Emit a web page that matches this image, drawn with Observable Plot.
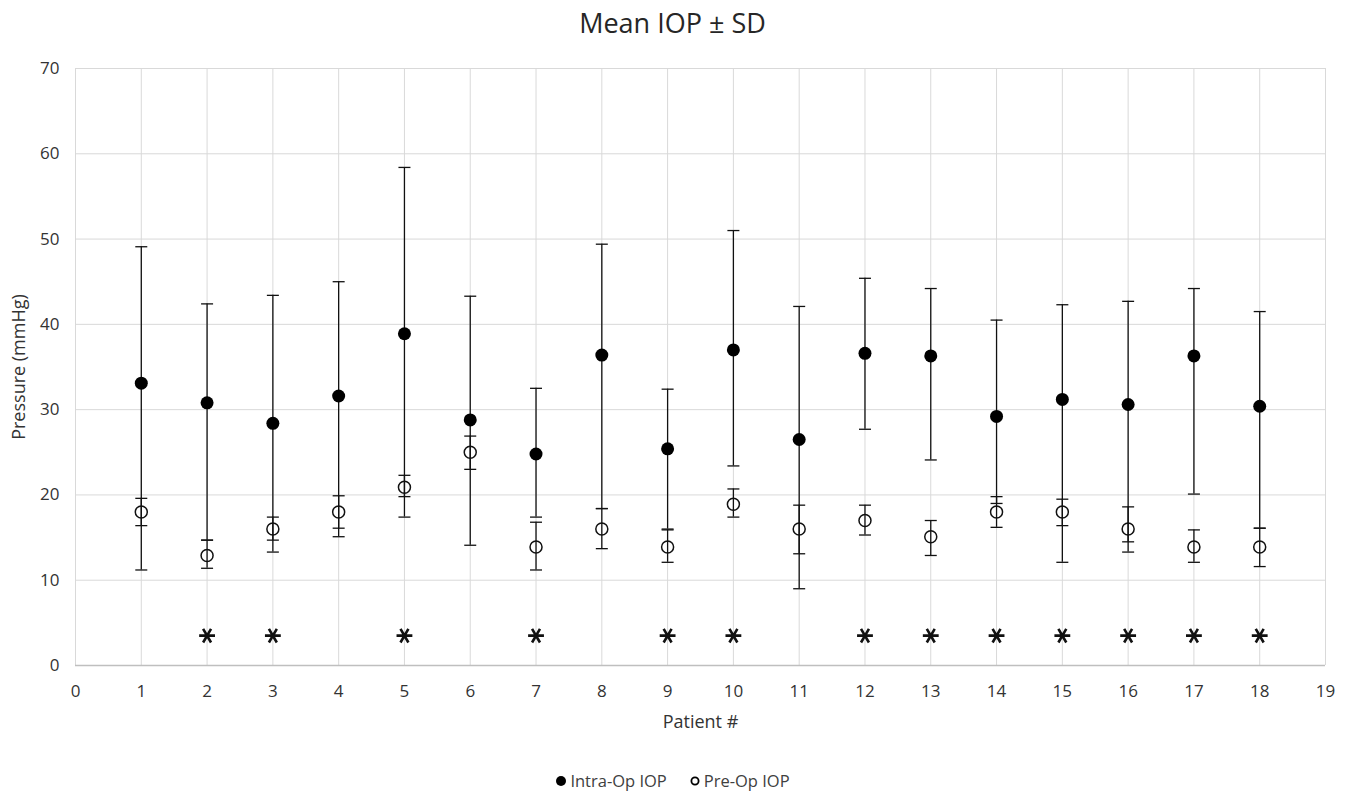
<!DOCTYPE html>
<html>
<head>
<meta charset="utf-8">
<script src="https://cdn.jsdelivr.net/npm/d3@7"></script>
<script src="https://cdn.jsdelivr.net/npm/@observablehq/plot@0.6"></script>
<style>
  html, body { margin: 0; padding: 0; background: #fff; }
  body { width: 1345px; height: 794px; overflow: hidden; font-family: "Open Sans", sans-serif; }
  #title { height: 50px; box-sizing: border-box; padding-top: 7px; text-align: center; font-size: 27px; line-height: 32px; color: #262626; }
  #legend { text-align: center; font-size: 16.5px; color: #404040; padding-top: 20px; line-height: 22px; }
  #legend span.item { display: inline-flex; align-items: center; margin: 0 11px; }
  #legend svg { margin-right: 3px; }
</style>
</head>
<body>
<div id="title">Mean IOP ± SD</div>
<div id="chart"></div>
<div id="legend"></div>
<script>
// ---- data ----
const patients   = [1, 2, 3, 4, 5, 6, 7, 8, 9, 10, 11, 12, 13, 14, 15, 16, 17, 18];
const intraMean  = [33.1, 30.8, 28.4, 31.6, 38.9, 28.8, 24.8, 36.4, 25.4, 37.0, 26.5, 36.6, 36.3, 29.2, 31.2, 30.6, 36.3, 30.4];
const intraHigh  = [49.1, 42.4, 43.4, 45.0, 58.4, 43.3, 32.5, 49.4, 32.4, 51.0, 42.1, 45.4, 44.2, 40.5, 42.3, 42.7, 44.2, 41.5];
const intraLow   = [11.2, 14.7, 13.3, 15.1, 17.4, 14.1, 17.4, 18.4, 16.0, 23.4, 9.0, 27.7, 24.1, 19.0, 12.1, 14.5, 20.1, 16.1];
const preMean    = [18.0, 12.9, 16.0, 18.0, 20.9, 25.0, 13.9, 16.0, 13.9, 18.9, 16.0, 17.0, 15.1, 18.0, 18.0, 16.0, 13.9, 13.9];
const preHigh    = [19.6, 14.7, 17.4, 19.9, 22.3, 26.9, 16.8, 18.4, 15.9, 20.7, 18.8, 18.8, 17.0, 19.8, 19.5, 18.6, 15.9, 16.1];
const preLow     = [16.4, 11.4, 14.7, 16.1, 19.8, 23.0, 11.2, 13.7, 12.1, 17.4, 13.1, 15.3, 12.9, 16.2, 16.4, 13.3, 12.1, 11.6];
const significant = [2, 3, 5, 7, 9, 10, 12, 13, 14, 15, 16, 17, 18];
const asteriskLevel = 3.5;
const xTicks = [0,1,2,3,4,5,6,7,8,9,10,11,12,13,14,15,16,17,18,19];
const yTicks = [0,10,20,30,40,50,60,70];
const seriesNames = ["Intra-Op IOP", "Pre-Op IOP"];

// ---- table ----
const intra = patients.map((p, i) => ({p, mean: intraMean[i], lo: intraLow[i], hi: intraHigh[i]}));
const pre   = patients.map((p, i) => ({p, mean: preMean[i], lo: preLow[i], hi: preHigh[i]}));
const stars = significant.map(p => ({p, v: asteriskLevel}));

// horizontal cap symbol (pixel-sized)
const capSymbol = {
  draw(ctx, size) {
    const h = Math.sqrt(size / Math.PI);
    ctx.moveTo(-h, 0);
    ctx.lineTo(h, 0);
  }
};

const errMarks = (data) => [
  Plot.ruleX(data, {x: "p", y1: "lo", y2: "hi", stroke: "#111", strokeWidth: 1.3}),
  Plot.dot(data, {x: "p", y: "hi", symbol: capSymbol, r: 6, stroke: "#111", strokeWidth: 1.3, fill: "none"}),
  Plot.dot(data, {x: "p", y: "lo", symbol: capSymbol, r: 6, stroke: "#111", strokeWidth: 1.3, fill: "none"})
];

const chart = Plot.plot({
  width: 1345,
  height: 700,
  marginLeft: 75,
  marginRight: 20,
  marginTop: 18,
  marginBottom: 85,
  style: {fontFamily: "'Open Sans', sans-serif", fontSize: "17px", color: "#333", background: "white"},
  x: {domain: [0, 19]},
  y: {domain: [0, 70]},
  marks: [
    Plot.gridX(xTicks, {stroke: "#d9d9d9", strokeOpacity: 1, strokeWidth: 1}),
    Plot.gridY(yTicks, {stroke: "#d9d9d9", strokeOpacity: 1, strokeWidth: 1}),
    Plot.ruleY([0], {stroke: "#bfbfbf", strokeWidth: 1.5}),
    Plot.axisX(xTicks, {tickSize: 0, tickPadding: 19, label: null, fontSize: 17, tickFormat: d => String(d)}),
    Plot.axisY(yTicks, {tickSize: 0, tickPadding: 16, label: null, fontSize: 17}),
    Plot.text(["Patient #"], {frameAnchor: "bottom", dy: 62, fontSize: 18, fill: "#333"}),
    Plot.text(["Pressure (mmHg)"], {frameAnchor: "left", textAnchor: "middle", rotate: -90, dx: -56, fontSize: 18, fill: "#333"}),
    ...errMarks(intra),
    ...errMarks(pre),
    Plot.dot(pre, {x: "p", y: "mean", r: 6, stroke: "#111", strokeWidth: 1.5, fill: "none"}),
    Plot.dot(intra, {x: "p", y: "mean", r: 6.5, fill: "#000", stroke: "none"}),
    Plot.dot(stars, {x: "p", y: "v", symbol: "asterisk", rotate: 90, r: 7.5, stroke: "#111", strokeWidth: 2.6})
  ]
});
document.getElementById("chart").appendChild(chart);

// ---- legend ----
const legend = document.getElementById("legend");
legend.innerHTML =
  `<span class="item"><svg width="12" height="12"><circle cx="6" cy="6" r="5" fill="#000"/></svg>${seriesNames[0]}</span>` +
  `<span class="item"><svg width="12" height="12"><circle cx="6" cy="6" r="3.6" fill="none" stroke="#000" stroke-width="1.8"/></svg>${seriesNames[1]}</span>`;
</script>
</body>
</html>
